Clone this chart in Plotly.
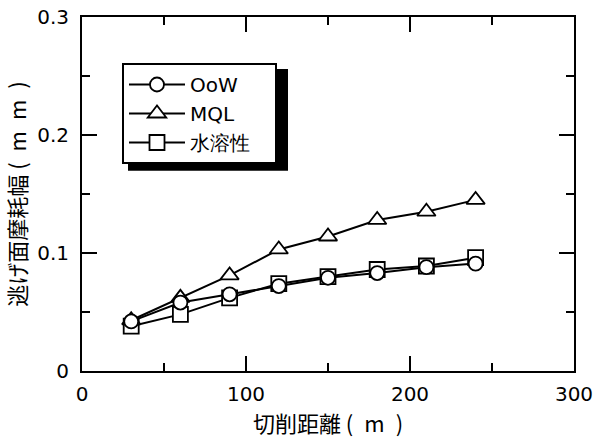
import plotly.graph_objects as go

distance = [30, 60, 90, 120, 150, 180, 210, 240]
oow = [0.042, 0.058, 0.065, 0.072, 0.079, 0.083, 0.088, 0.091]
mql = [0.043, 0.062, 0.081, 0.103, 0.114, 0.128, 0.135, 0.145]
water = [0.038, 0.048, 0.062, 0.074, 0.080, 0.086, 0.089, 0.096]

names = ["OoW", "MQL", "水溶性"]
x_title = "切削距離 (\u2002m\u2002)"
y_title = "逃げ面摩耗幅 (\u2002m\u2002m\u2002)"

fig = go.Figure()

def add(y, name, symbol, size, rank):
    fig.add_trace(go.Scatter(
        x=distance, y=y, name=name + "\u2003", mode="lines+markers",
        line=dict(color="black", width=2),
        marker=dict(symbol=symbol, size=size, color="white",
                    line=dict(color="black", width=1.8)),
        legendrank=rank, legendgroup=name,
    ))

add(water, names[2], "square", 15, 3)
add(mql, names[1], "triangle-up", 16, 2)
add(oow, names[0], "circle", 14, 1)

tick_font = dict(family="DejaVu Sans", size=20, color="black")
title_font = dict(family="Noto Sans CJK JP", size=22, color="black")

axis_common = dict(
    showline=True, linecolor="black", linewidth=2, mirror="ticks",
    ticks="inside", ticklen=15, tickwidth=2, tickcolor="black",
    showgrid=False, zeroline=False, tickfont=tick_font, automargin=False,
)

fig.update_xaxes(
    range=[0, 300], dtick=100, tick0=0, ticklabelstandoff=4,
    minor=dict(dtick=50, ticks="inside", ticklen=8, tickwidth=2, tickcolor="black"),
    title=dict(text=x_title, font=title_font, standoff=4),
    **axis_common,
)
fig.update_yaxes(
    range=[0, 0.3], dtick=0.1, tick0=0, tickformat="~g", ticklabelstandoff=7,
    minor=dict(dtick=0.05, ticks="inside", ticklen=8, tickwidth=2, tickcolor="black"),
    title=dict(text=y_title, font=title_font, standoff=4),
    **axis_common,
)

# legend shadow
fig.add_shape(type="rect", xref="paper", yref="paper",
              x0=0.0935, x1=0.4187, y0=0.566, y1=0.853,
              fillcolor="black", line=dict(width=0), layer="above")

fig.update_layout(
    width=594, height=439,
    margin=dict(l=82, r=20, t=17, b=68),
    paper_bgcolor="white", plot_bgcolor="white",
    showlegend=True,
    legend=dict(
        x=0.0813, y=0.870, xanchor="left", yanchor="top",
        bgcolor="white", bordercolor="black", borderwidth=2,
        font=dict(family="DejaVu Sans", size=20, color="black"),
        traceorder="grouped", tracegroupgap=0, itemwidth=56,
    ),
)

fig.write_html("out.html")
